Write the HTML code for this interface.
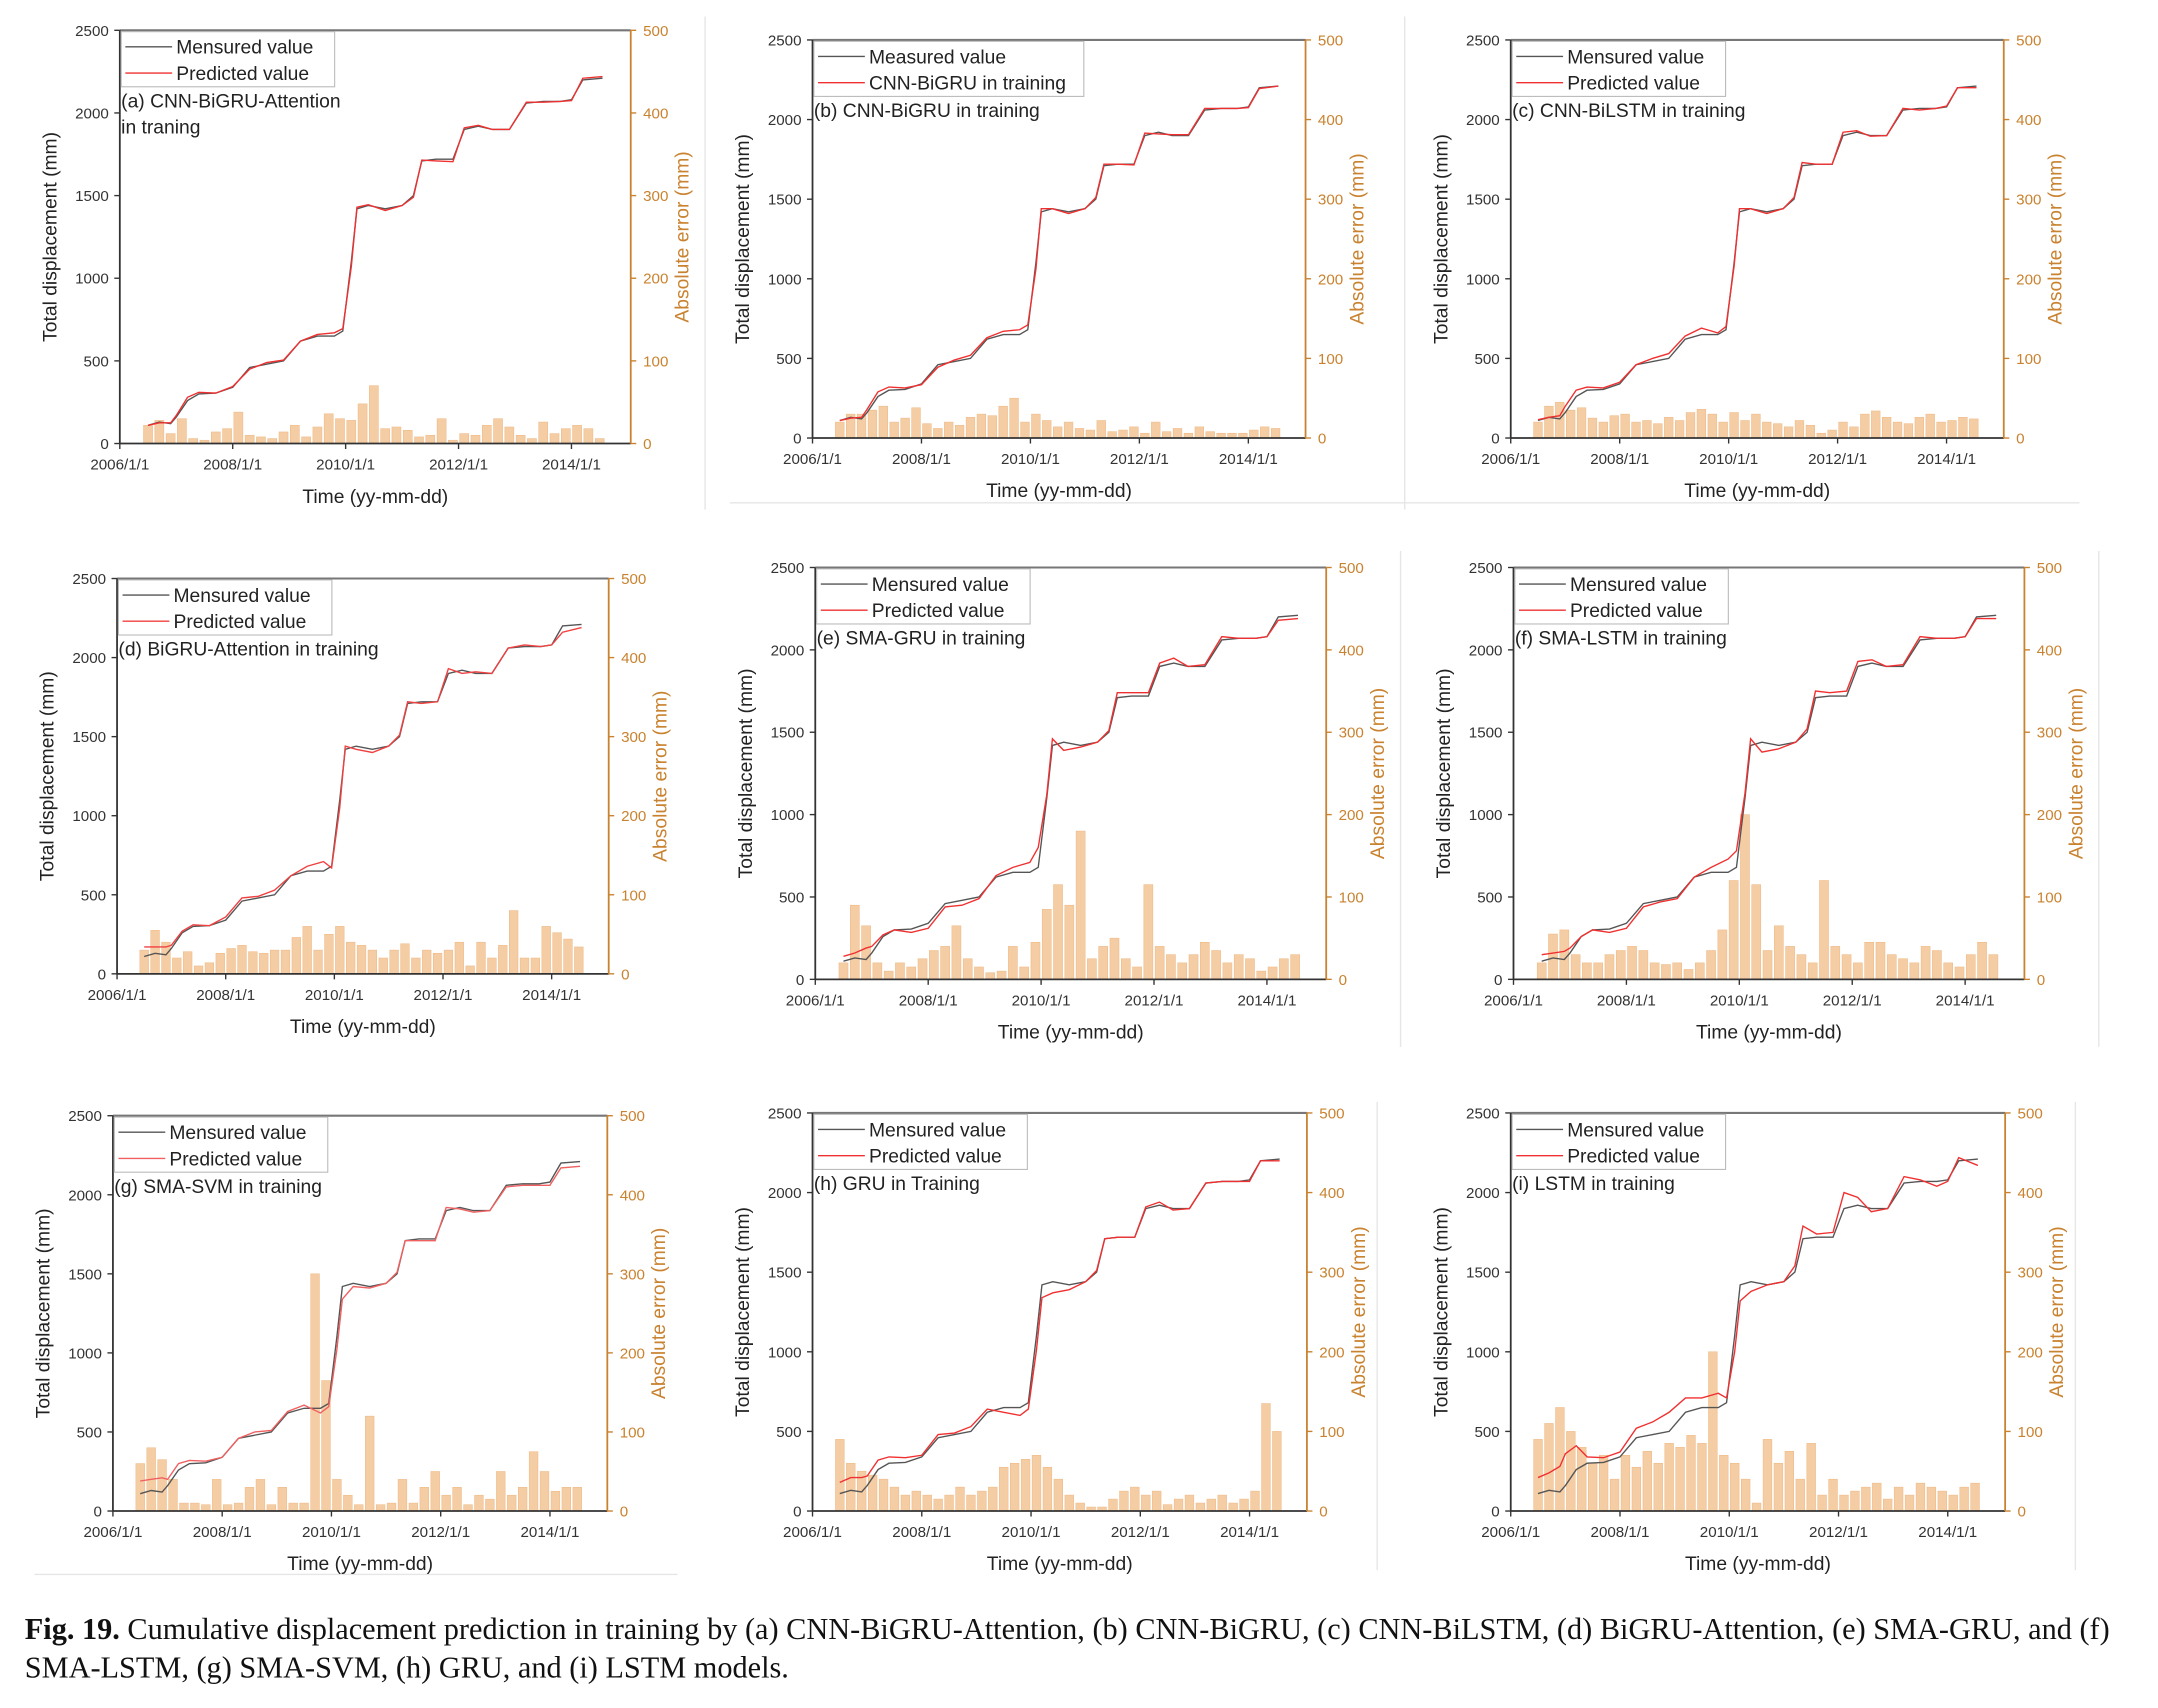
<!DOCTYPE html>
<html><head><meta charset="utf-8"><style>
html,body{margin:0;padding:0;background:#fff;}
svg{display:block;}
text{font-family:"Liberation Sans",sans-serif;}
</style></head><body>
<svg id="fig" width="2158" height="1708" viewBox="0 0 1567 1240" preserveAspectRatio="none" xmlns="http://www.w3.org/2000/svg">
<g stroke="#e6e6e6" stroke-width="1">
<line x1="512" y1="12" x2="512" y2="370"/><line x1="1020" y1="12" x2="1020" y2="370"/>
<line x1="530" y1="365" x2="1510" y2="365"/>
<line x1="1017" y1="400" x2="1017" y2="760"/><line x1="1524" y1="400" x2="1524" y2="760"/>
<line x1="25" y1="1143" x2="492" y2="1143"/><line x1="1000" y1="800" x2="1000" y2="1140"/><line x1="1507" y1="800" x2="1507" y2="1140"/>
</g>
<text x="18" y="1190" font-size="22" style="font-family:'Liberation Serif',serif" fill="#111"><tspan font-weight="bold">Fig. 19.</tspan> Cumulative displacement prediction in training by (a) CNN-BiGRU-Attention, (b) CNN-BiGRU, (c) CNN-BiLSTM, (d) BiGRU-Attention, (e) SMA-GRU, and (f)</text>
<text x="18" y="1218" font-size="22" style="font-family:'Liberation Serif',serif" fill="#111">SMA-LSTM, (g) SMA-SVM, (h) GRU, and (i) LSTM models.</text>
</svg>
<script>
// Shared measured displacement series (year, mm)
const measT=[2006.5,2006.7,2006.9,2007.0,2007.2,2007.4,2007.7,2008.0,2008.3,2008.6,2008.9,2009.2,2009.5,2009.8,2009.95,2010.1,2010.2,2010.4,2010.7,2011.0,2011.2,2011.35,2011.6,2011.9,2012.1,2012.35,2012.6,2012.9,2013.2,2013.5,2013.8,2014.0,2014.2,2014.55];
const measV=[110,130,120,160,260,300,305,340,460,480,500,620,650,650,680,1100,1420,1440,1420,1440,1500,1710,1720,1720,1900,1920,1900,1900,2060,2070,2070,2080,2200,2210];
// Prediction deviations from measured (mm) per panel
const offA=[0,-5,5,10,20,10,0,5,-10,10,5,0,10,20,15,-30,10,5,-10,0,-10,5,-10,-15,10,5,0,0,5,-5,0,-5,10,10];
const offB=[0,-5,10,20,30,20,10,-5,-15,10,20,10,20,30,30,-40,20,0,-10,0,10,10,0,-5,15,-10,5,5,10,0,0,-5,-5,0];
const offC=[5,0,20,40,40,20,10,10,0,20,30,20,40,10,20,-20,20,0,-10,0,10,20,0,0,20,10,-5,0,10,-10,0,5,0,-10];
const offD=[60,40,50,20,10,10,0,20,20,10,30,0,30,60,-10,-50,20,-20,-20,0,10,10,-10,0,30,-20,10,0,0,10,0,0,-40,-20];
const offE=[30,30,70,40,10,0,-20,-30,-20,-30,-10,10,30,60,120,20,40,-50,-10,0,10,30,20,20,20,30,0,10,20,0,0,0,-20,-20];
const offF=[40,30,50,30,0,0,-20,-30,-20,-10,-10,0,30,80,100,30,40,-60,-20,0,20,40,20,30,30,20,0,10,20,0,0,0,-10,-20];
const offG=[80,70,90,40,40,20,10,0,0,20,10,10,20,-30,-20,-80,-80,-20,-10,0,10,0,-10,-10,20,-10,-10,0,-10,-10,-10,-20,-30,-30];
const offH=[70,80,90,60,60,40,30,10,20,10,30,20,-30,-50,-40,-90,-80,-70,-30,0,10,0,0,0,10,20,-10,0,0,0,0,-10,0,-10];
const offI=[100,110,160,200,150,40,30,30,60,80,120,90,60,90,30,-100,-100,-60,0,0,40,80,20,30,100,50,-20,0,40,10,-30,-10,20,-40];
// Absolute error bars (mm), 41 bars from 2006.5 step 0.2 yr
const errT0=2006.5, errStep=0.2;
const errA=[22,28,12,30,6,4,14,18,38,10,8,6,14,22,8,20,36,30,28,48,70,18,20,16,8,10,30,4,12,10,22,30,20,10,6,26,12,18,22,18,6];
const errB=[20,30,30,35,40,20,25,38,18,12,20,16,26,30,28,40,50,20,30,22,14,20,12,10,22,8,10,14,6,20,8,12,6,14,8,6,6,6,10,14,12];
const errC=[20,40,45,35,38,25,20,28,30,20,22,18,26,22,32,36,30,20,32,22,30,20,18,14,22,16,6,10,20,14,30,34,26,20,18,26,30,20,22,26,24];
const errD=[30,55,40,20,28,10,14,26,32,36,28,26,30,30,46,60,30,50,60,40,36,30,20,30,38,20,30,26,30,40,10,40,20,36,80,20,20,60,52,44,34];
const errE=[20,90,65,20,10,20,15,25,35,40,65,25,15,8,10,40,15,45,85,115,90,180,25,40,50,25,15,115,40,30,20,30,45,35,20,30,25,10,15,25,30];
const errF=[20,55,60,30,20,20,30,35,40,35,20,18,20,12,20,35,60,120,200,115,35,65,40,30,20,120,40,30,20,45,45,30,25,20,40,35,20,15,30,45,30];
const errG=[60,80,65,40,10,10,8,40,8,10,30,40,8,30,10,10,300,165,40,20,8,120,8,10,40,10,30,50,20,30,8,20,15,50,20,30,75,50,25,30,30];
const errH=[90,60,50,45,40,30,20,25,20,15,20,30,20,25,30,55,60,65,70,55,40,20,10,5,5,15,25,30,20,25,8,15,20,10,15,20,10,15,25,135,100];
const errI=[90,110,130,100,80,60,70,40,70,55,75,60,85,80,95,85,200,70,60,40,10,90,60,75,40,85,20,40,20,25,30,35,15,30,20,35,30,25,20,30,35];

const panels=[
 {id:'a',L:87,R:458,T:22,B:322,off:offA,err:errA,l1:'Mensured value',l2:'Predicted value',title:['(a) CNN-BiGRU-Attention',' in traning'],pc:'#f03030'},
 {id:'b',L:590,R:948,T:29,B:318,off:offB,err:errB,l1:'Measured value',l2:'CNN-BiGRU in training',title:['(b) CNN-BiGRU in training'],pc:'#f03030'},
 {id:'c',L:1097,R:1455,T:29,B:318,off:offC,err:errC,l1:'Mensured value',l2:'Predicted value',title:['(c) CNN-BiLSTM in training'],pc:'#f03030'},
 {id:'d',L:85,R:442,T:420,B:707,off:offD,err:errD,l1:'Mensured value',l2:'Predicted value',title:['(d) BiGRU-Attention in training'],pc:'#f04040'},
 {id:'e',L:592,R:963,T:412,B:711,off:offE,err:errE,l1:'Mensured value',l2:'Predicted value',title:['(e) SMA-GRU in training'],pc:'#f03030'},
 {id:'f',L:1099,R:1470,T:412,B:711,off:offF,err:errF,l1:'Mensured value',l2:'Predicted value',title:['(f) SMA-LSTM in training'],pc:'#f03030'},
 {id:'g',L:82,R:441,T:810,B:1097,off:offG,err:errG,l1:'Mensured value',l2:'Predicted value',title:['(g) SMA-SVM in training'],pc:'#f06060'},
 {id:'h',L:590,R:949,T:808,B:1097,off:offH,err:errH,l1:'Mensured value',l2:'Predicted value',title:['(h) GRU in Training'],pc:'#f03030'},
 {id:'i',L:1097,R:1456,T:808,B:1097,off:offI,err:errI,l1:'Mensured value',l2:'Predicted value',title:['(i) LSTM in training'],pc:'#f03030'}
];
const yTicks=[0,500,1000,1500,2000,2500];
const eTicks=[0,100,200,300,400,500];
const xTicks=[2006,2008,2010,2012,2014];
const xTickLabels=['2006/1/1','2008/1/1','2010/1/1','2012/1/1','2014/1/1'];
const NS='http://www.w3.org/2000/svg';
const svg=document.getElementById('fig');
function mk(tag,attrs,parent,txt){const e=document.createElementNS(NS,tag);for(const k in attrs)e.setAttribute(k,attrs[k]);if(txt!==undefined)e.textContent=txt;parent.appendChild(e);return e;}
const ORANGE='#c9822f';
panels.forEach(p=>{
 const g=mk('g',{},svg);
 
 
 const x=t=>p.L+(t-2006)/(9.05)*(p.R-p.L);
 const y=v=>p.B-v/2500*(p.B-p.T);
 const ye=v=>p.B-v/500*(p.B-p.T);
 const bg=mk('g',{},g);
 
 
 const bw=(x(2006.2)-x(2006))*0.8;
 p.err.forEach((v,i)=>{const t=errT0+i*errStep;const r=mk('rect',{x:x(t)-bw/2,y:ye(v),width:bw,height:p.B-ye(v),fill:'#f5cda4',stroke:'#eeb985','stroke-width':0.4},bg);
  
  });
 const mp=measT.map((t,i)=>x(t).toFixed(1)+','+y(measV[i]).toFixed(1)).join(' ');
 const pp=measT.map((t,i)=>x(t).toFixed(1)+','+y(measV[i]+p.off[i]).toFixed(1)).join(' ');
 const ml=mk('polyline',{points:mp,fill:'none',stroke:'#555','stroke-width':1},g);
 
 
 const pl=mk('polyline',{points:pp,fill:'none',stroke:p.pc,'stroke-width':1},g);
 
 
 mk('line',{x1:p.L,y1:p.T,x2:p.R,y2:p.T,stroke:'#777','stroke-width':1.5},g);
 mk('line',{x1:p.L,y1:p.B,x2:p.R,y2:p.B,stroke:'#333','stroke-width':1.3},g);
 mk('line',{x1:p.L,y1:p.T,x2:p.L,y2:p.B,stroke:'#333','stroke-width':1.3},g);
 mk('line',{x1:p.R,y1:p.T,x2:p.R,y2:p.B,stroke:ORANGE,'stroke-width':1.3},g);
 yTicks.forEach(v=>{mk('line',{x1:p.L-4,y1:y(v),x2:p.L,y2:y(v),stroke:'#333'},g);
  const t=mk('text',{x:p.L-8,y:y(v)+4,'font-size':11,'text-anchor':'end',fill:'#333'},g,String(v));
  
  });
 eTicks.forEach(v=>{mk('line',{x1:p.R,y1:ye(v),x2:p.R+4,y2:ye(v),stroke:ORANGE},g);
  const t=mk('text',{x:p.R+9,y:ye(v)+4,'font-size':11,fill:ORANGE},g,String(v));
  
  });
 xTicks.forEach((v,i)=>{mk('line',{x1:x(v),y1:p.B,x2:x(v),y2:p.B+4,stroke:'#333'},g);
  const t=mk('text',{x:x(v),y:p.B+19,'font-size':11,'text-anchor':'middle',fill:'#333'},g,xTickLabels[i]);
  
  });
 const xl=mk('text',{x:(p.L+p.R)/2,y:p.B+43,'font-size':14,'text-anchor':'middle',fill:'#222'},g,'Time (yy-mm-dd)');
 
 
 const cy=(p.T+p.B)/2;
 const yl=mk('text',{x:p.L-46,y:cy,'font-size':14,'text-anchor':'middle',fill:'#222',transform:`rotate(-90 ${p.L-46} ${cy})`},g,'Total displacement (mm)');
 
 
 const rl=mk('text',{x:p.R+42,y:cy,'font-size':14,'text-anchor':'middle',fill:ORANGE,transform:`rotate(-90 ${p.R+42} ${cy})`},g,'Absolute error (mm)');
 
 
 const lg=mk('g',{},g);
 
 
 const lw=p.id==='b'?196:155;
 mk('rect',{x:p.L+1,y:p.T+1,width:lw,height:40,fill:'#fff',stroke:'#bbb','stroke-width':0.8},lg);
 mk('line',{x1:p.L+4,y1:p.T+12,x2:p.L+38,y2:p.T+12,stroke:'#555'},lg);
 mk('line',{x1:p.L+4,y1:p.T+31,x2:p.L+38,y2:p.T+31,stroke:p.pc},lg);
 const t1=mk('text',{x:p.L+41,y:p.T+17,'font-size':14,fill:'#222'},lg,p.l1);
 
 
 const t2=mk('text',{x:p.L+41,y:p.T+36,'font-size':14,fill:'#222'},lg,p.l2);
 
 
 p.title.forEach((s,i)=>{const t=mk('text',{x:p.L+1,y:p.T+56+i*19,'font-size':14,fill:'#222'},g,s);
  
  });
});
</script>
</body></html>
